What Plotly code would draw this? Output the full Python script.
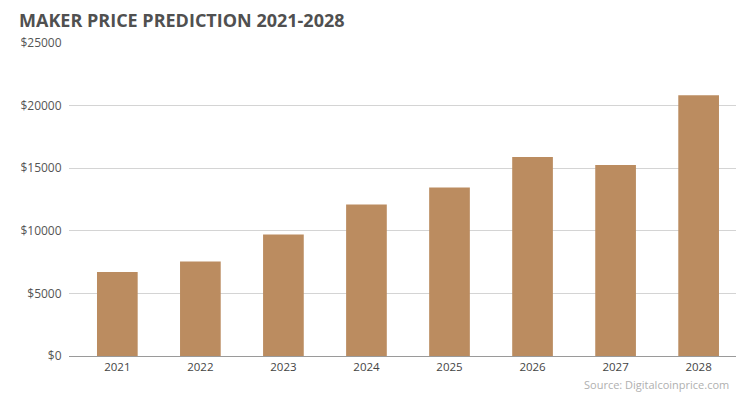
import plotly.graph_objects as go

years = ["2021", "2022", "2023", "2024", "2025", "2026", "2027", "2028"]
prices = [6700, 7550, 9700, 12100, 13450, 15900, 15250, 20820]
y_ticks = [0, 5000, 10000, 15000, 20000, 25000]
y_tick_labels = ["$0", "$5000", "$10000", "$15000", "$20000", "$25000"]

# page body has an 8px default margin, so the figure is drawn 8px smaller
W, H = 742, 391
L, R, T, B = 59, 14, 35, 43
plot_w = W - L - R
plot_h = H - T - B

fig = go.Figure(
    go.Bar(
        x=years,
        y=prices,
        marker=dict(color="#BB8C60", line=dict(width=0)),
        width=0.49,
        hoverinfo="x+y",
    )
)

fig.update_layout(
    width=W,
    height=H,
    margin=dict(l=L, r=R, t=T, b=B),
    paper_bgcolor="white",
    plot_bgcolor="white",
    showlegend=False,
    font=dict(family="Open Sans", color="#555555"),
    title=dict(
        text="<b>MAKER PRICE PREDICTION 2021-2028</b>",
        x=11 / W,
        xanchor="left",
        y=1 - 13 / H,
        yanchor="middle",
        font=dict(family="Open Sans", size=18, color="#505050"),
    ),
    xaxis=dict(
        type="category",
        range=[-0.582, 7.45],
        showgrid=False,
        showline=True,
        linecolor="#9a9a9a",
        linewidth=1,
        ticks="",
        tickfont=dict(size=11.5, color="#444444"),
        fixedrange=True,
    ),
    yaxis=dict(
        range=[0, 25000],
        tickvals=y_ticks,
        ticktext=y_tick_labels,
        showgrid=True,
        gridcolor="#d4d4d4",
        gridwidth=1,
        zeroline=False,
        showline=False,
        ticks="outside",
        ticklen=4,
        tickcolor="rgba(0,0,0,0)",
        tickfont=dict(size=12, color="#555555"),
        fixedrange=True,
    ),
    annotations=[
        dict(
            text="Source: Digitalcoinprice.com",
            xref="paper",
            yref="paper",
            x=(723 - L) / plot_w,
            y=-28 / plot_h,
            xanchor="right",
            yanchor="middle",
            showarrow=False,
            font=dict(family="Open Sans", size=11, color="#b0b0b0"),
        )
    ],
)

fig.write_html("out.html")
